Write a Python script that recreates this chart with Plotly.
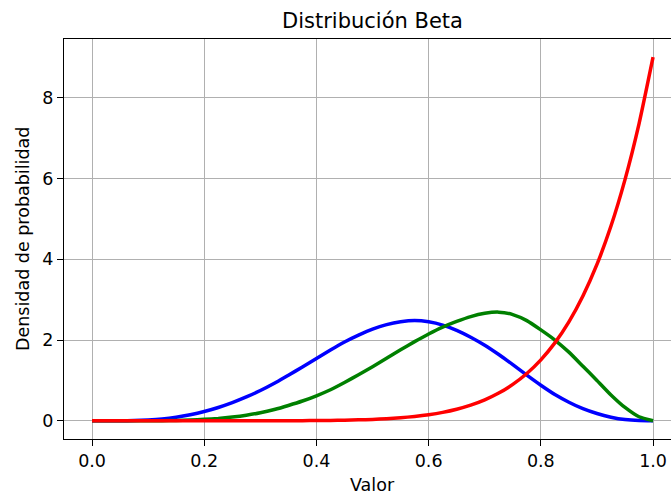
import plotly.graph_objects as go

# Density values of three Beta curves sampled every 0.025 along [0, 1]
x_grid = [round(i * 0.025, 3) for i in range(41)]

blue_y = [0.0, 0.0001, 0.002, 0.007, 0.02, 0.045, 0.088, 0.15, 0.23, 0.33,
          0.45, 0.59, 0.75, 0.93, 1.13, 1.33, 1.54, 1.75, 1.95, 2.12,
          2.27, 2.38, 2.45, 2.48, 2.45, 2.37, 2.24, 2.07, 1.87, 1.64,
          1.39, 1.13, 0.88, 0.65, 0.46, 0.30, 0.18, 0.09, 0.03, 0.005, 0.0]

green_y = [0.0, 0.0, 0.0, 0.0003, 0.0015, 0.004, 0.01, 0.02, 0.036, 0.06,
           0.095, 0.14, 0.2, 0.28, 0.38, 0.49, 0.62, 0.77, 0.95, 1.14,
           1.34, 1.55, 1.76, 1.96, 2.15, 2.32, 2.46, 2.58, 2.66, 2.69,
           2.63, 2.48, 2.25, 2.0, 1.70, 1.35, 1.0, 0.64, 0.33, 0.1, 0.0]

red_y = [0.0, 0.0, 0.0, 0.0, 0.0, 0.0, 0.0, 0.0, 0.0, 0.0,
         0.0, 0.0, 0.001, 0.001, 0.002, 0.004, 0.006, 0.01, 0.015, 0.024,
         0.035, 0.052, 0.076, 0.108, 0.151, 0.209, 0.287, 0.388, 0.519, 0.687,
         0.901, 1.171, 1.51, 1.93, 2.45, 3.09, 3.87, 4.82, 5.97, 7.35, 9.0]

x_ticks = [0.0, 0.2, 0.4, 0.6, 0.8, 1.0]
x_tick_labels = ["0.0", "0.2", "0.4", "0.6", "0.8", "1.0"]
y_ticks = [0, 2, 4, 6, 8]

FONT = "DejaVu Sans"
W, H = 671, 499
ML, MR, MT, MB = 64, 0, 39, 60

fig = go.Figure()
for ys, color in [(blue_y, "#0000ff"), (green_y, "#008000"), (red_y, "#ff0000")]:
    fig.add_trace(go.Scatter(x=x_grid, y=ys, mode="lines",
                             line=dict(color=color, width=3.5, shape="spline", smoothing=0.5)))

plot_w = W - ML - MR
plot_h = H - MT - MB

axis_common = dict(showgrid=True, gridcolor="#b0b0b0", gridwidth=1.3,
                   showline=True, linecolor="black", linewidth=1.4,
                   ticks="outside", ticklen=6, tickwidth=1.4, tickcolor="black",
                   zeroline=False, tickfont=dict(family=FONT, size=17.5, color="black"))

fig.update_layout(
    width=W, height=H,
    margin=dict(l=ML, r=MR, t=MT, b=MB, pad=0),
    paper_bgcolor="white", plot_bgcolor="white",
    showlegend=False,
    font=dict(family=FONT, size=17.5, color="black"),
    title=dict(text="Distribución Beta", font=dict(family=FONT, size=21, color="black"),
               xref="paper", x=(372.5 - ML) / plot_w, xanchor="center",
               yref="container", y=1 - 20.5 / H, yanchor="middle"),
    xaxis=dict(range=[-0.05, 1.032], tickvals=x_ticks, ticktext=x_tick_labels,
               mirror=True, **axis_common),
    yaxis=dict(range=[-0.45, 9.45], tickvals=y_ticks, **axis_common),
    annotations=[
        dict(text="Valor", xref="paper", yref="paper",
             x=(372.5 - ML) / plot_w, y=(H - MB - 485) / plot_h,
             xanchor="center", yanchor="middle", showarrow=False,
             font=dict(family=FONT, size=17.5, color="black")),
        dict(text="Densidad de probabilidad", xref="paper", yref="paper",
             x=(23 - ML) / plot_w, y=(H - MB - 239) / plot_h,
             xanchor="center", yanchor="middle", textangle=-90, showarrow=False,
             font=dict(family=FONT, size=17.5, color="black")),
    ],
)

fig.write_html("out.html")
